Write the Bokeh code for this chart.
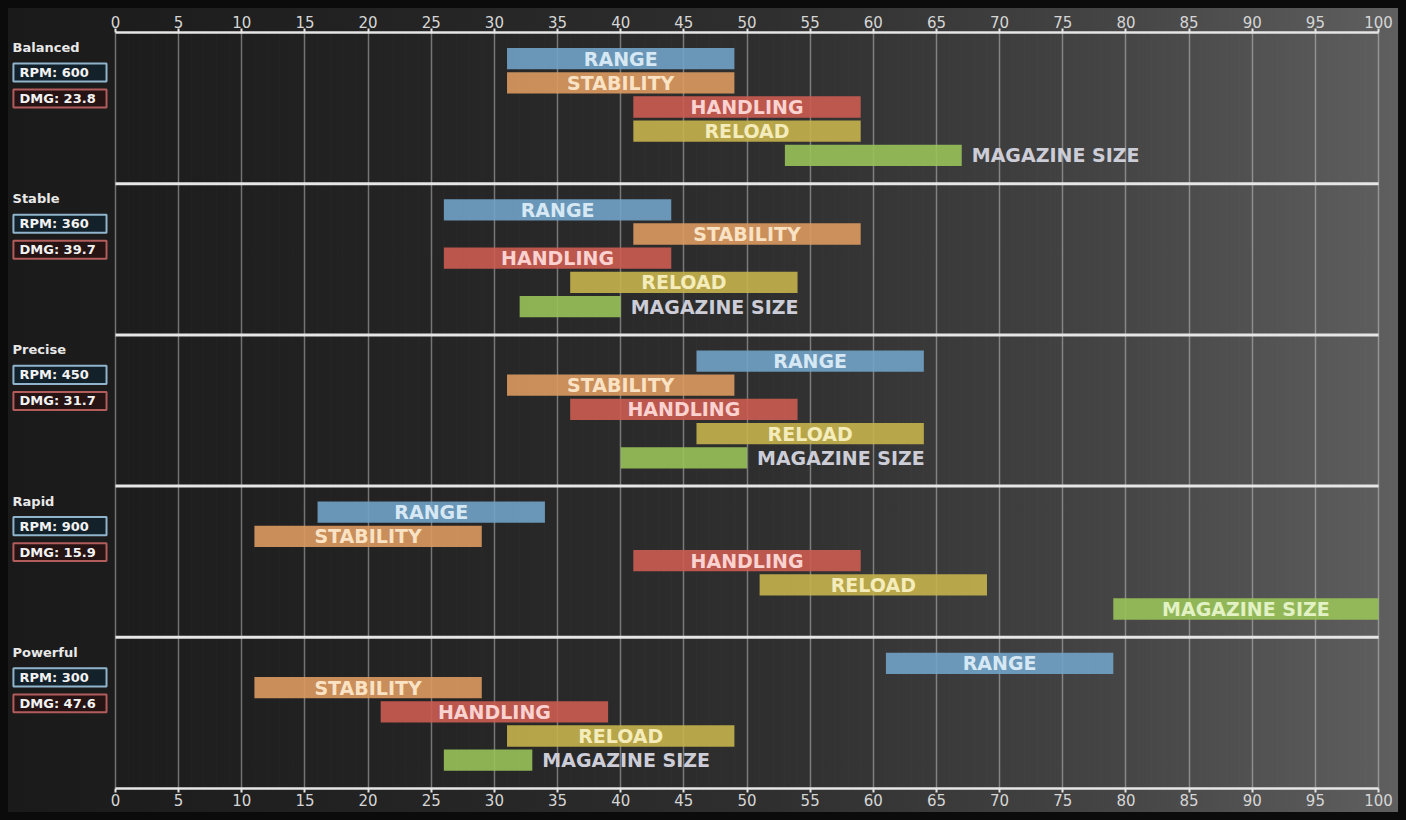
from bokeh.plotting import figure
from bokeh.models import Range1d, LinearAxis, FixedTicker, ColumnDataSource
from bokeh.core.properties import value
from bokeh.embed import file_html
from bokeh.resources import INLINE

# ---------------- data ----------------
archetypes = ["Balanced", "Stable", "Precise", "Rapid", "Powerful"]
rpm = [600, 360, 450, 900, 300]
dmg = [23.8, 39.7, 31.7, 15.9, 47.6]

stats = ["RANGE", "STABILITY", "HANDLING", "RELOAD", "MAGAZINE SIZE"]

range_start = [31, 26, 46, 16, 61]
range_end = [49, 44, 64, 34, 79]
stability_start = [31, 41, 31, 11, 11]
stability_end = [49, 59, 49, 29, 29]
handling_start = [41, 26, 36, 41, 21]
handling_end = [59, 44, 54, 59, 39]
reload_start = [41, 36, 46, 51, 31]
reload_end = [59, 54, 64, 69, 49]
magazine_start = [53, 32, 40, 79, 26]
magazine_end = [67, 40, 50, 100, 33]

x_ticks = list(range(0, 101, 5))

# ---------------- styles ----------------
bar_colors = ["#71a2c6", "#dc9a60", "#cc5c52", "#c6b24c", "#99c25a"]
text_colors = ["#d6e8f4", "#fae2c4", "#fad2d0", "#f4ecba", "#e2f2c4"]
outside_text_color = "#cdcdd8"
FONT = "DejaVu Sans"

SECTION = 6.25
FIRST = 1.08
STEP = 1.0
BAR_H = 0.88
PX_PER_UNIT = 12.63
LABEL_PX = 19

starts = [range_start, stability_start, handling_start, reload_start, magazine_start]
ends = [range_end, stability_end, handling_end, reload_end, magazine_end]

bars = dict(y=[], left=[], right=[], color=[])
inside = dict(x=[], y=[], text=[], color=[])
outside = dict(x=[], y=[], text=[])
for i, _ in enumerate(archetypes):
    for j, stat in enumerate(stats):
        y = i * SECTION + FIRST + j * STEP
        l, r = starts[j][i], ends[j][i]
        bars["y"].append(y)
        bars["left"].append(l)
        bars["right"].append(r)
        bars["color"].append(bar_colors[j])
        est_w = len(stat) * 0.7 * LABEL_PX + 12
        if (r - l) * PX_PER_UNIT >= est_w:
            inside["x"].append((l + r) / 2)
            inside["y"].append(y)
            inside["text"].append(stat)
            inside["color"].append(text_colors[j])
        else:
            outside["x"].append(r)
            outside["y"].append(y)
            outside["text"].append(stat)

p = figure(
    width=1390, height=804,
    x_range=Range1d(-8.47, 101.58), y_range=Range1d(SECTION * len(archetypes), 0),
    x_axis_location="above", y_axis_location=None,
    toolbar_location=None, output_backend="svg",
    min_border_left=0, min_border_right=0, min_border_top=24, min_border_bottom=24,
)
p.background_fill_alpha = 0
p.border_fill_alpha = 0
p.outline_line_color = None
p.styles = {"background": "linear-gradient(to right, #1a1a1a 0%, #222222 25%, #2f2f2f 55%, #454545 80%, #5f5f5f 100%)"}

bottom_axis = LinearAxis()
p.add_layout(bottom_axis, "below")
for ax in [p.xaxis[0], bottom_axis]:
    ax.ticker = FixedTicker(ticks=x_ticks)
    ax.bounds = (0, 100)
    ax.axis_line_color = "#e6e6e6"
    ax.axis_line_width = 2.5
    ax.major_tick_line_color = "#e6e6e6"
    ax.major_tick_line_width = 2
    ax.major_tick_in = 0
    ax.major_tick_out = 4
    ax.minor_tick_line_color = None
    ax.major_label_text_color = "#d6d6d6"
    ax.major_label_text_font = FONT
    ax.major_label_text_font_size = "15px"
    ax.major_label_standoff = 1

p.xgrid.ticker = FixedTicker(ticks=x_ticks, minor_ticks=list(range(0, 101)))
p.xgrid.grid_line_color = "#d8d8d8"
p.xgrid.grid_line_alpha = 0.45
p.xgrid.grid_line_width = 1.5
p.xgrid.minor_grid_line_color = "#ffffff"
p.xgrid.minor_grid_line_alpha = 0.015
p.ygrid.visible = False

# section separators
seps = [i * SECTION for i in range(1, len(archetypes))]
p.segment(x0=[0] * len(seps), x1=[100] * len(seps), y0=seps, y1=seps,
          line_color="#e6e6e6", line_width=3)

# bars
p.hbar(y="y", left="left", right="right", height=BAR_H, fill_color="color",
       fill_alpha=0.9, line_color=None, source=ColumnDataSource(bars))

p.text(x="x", y="y", text="text", text_color="color", source=ColumnDataSource(inside),
       text_font=value(FONT), text_font_style="bold", text_font_size=f"{LABEL_PX}px",
       text_align="center", text_baseline="middle")
p.text(x="x", y="y", text="text", source=ColumnDataSource(outside), x_offset=10,
       text_color=outside_text_color,
       text_font=value(FONT), text_font_style="bold", text_font_size=f"{LABEL_PX}px",
       text_align="left", text_baseline="middle")

# left panel: names and stat boxes
n = len(archetypes)
names_y = [i * SECTION + 0.62 for i in range(n)]
p.text(x=[-8.15] * n, y=names_y, text=archetypes,
       text_color="#e8e8e8", text_font=value(FONT), text_font_style="bold",
       text_font_size="13px", text_align="left", text_baseline="middle")

rpm_top = [i * SECTION + 1.28 for i in range(n)]
rpm_bot = [i * SECTION + 2.03 for i in range(n)]
dmg_top = [i * SECTION + 2.36 for i in range(n)]
dmg_bot = [i * SECTION + 3.10 for i in range(n)]
p.quad(left=[-8.08] * n, right=[-0.71] * n, top=rpm_top, bottom=rpm_bot,
       fill_color="#13212a", line_color="#8fb4cc", line_width=2)
p.quad(left=[-8.08] * n, right=[-0.71] * n, top=dmg_top, bottom=dmg_bot,
       fill_color="#261414", line_color="#b25c5c", line_width=2)
p.text(x=[-7.6] * n, y=[(a + b) / 2 for a, b in zip(rpm_top, rpm_bot)],
       text=[f"RPM: {v}" for v in rpm], text_color="#f2f2f2",
       text_font=value(FONT), text_font_style="bold", text_font_size="13px",
       text_align="left", text_baseline="middle")
p.text(x=[-7.6] * n, y=[(a + b) / 2 for a, b in zip(dmg_top, dmg_bot)],
       text=[f"DMG: {v}" for v in dmg], text_color="#f2f2f2",
       text_font=value(FONT), text_font_style="bold", text_font_size="13px",
       text_align="left", text_baseline="middle")

html = file_html(p, INLINE)
html = html.replace("</head>",
                    "<style>html { background: #0b0b0b; } body { background: #0b0b0b; margin: 8px; }</style></head>", 1)
open("out.html", "w").write(html)
